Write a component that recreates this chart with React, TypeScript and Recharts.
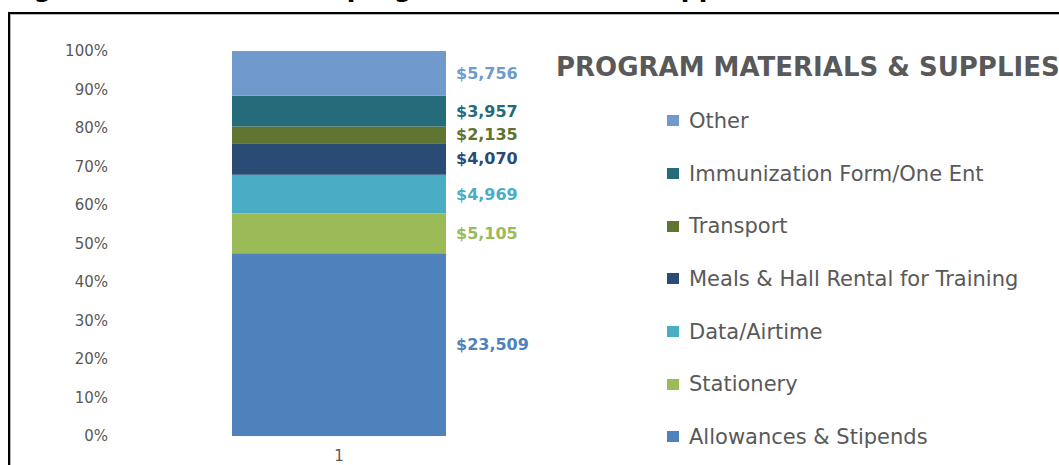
import React from "react";
import { BarChart, Bar, XAxis, YAxis, Legend, LabelList } from "recharts";

const categories = ["1"];
const seriesNames = [
  "Allowances & Stipends",
  "Stationery",
  "Data/Airtime",
  "Meals & Hall Rental for Training",
  "Transport",
  "Immunization Form/One Ent",
  "Other",
];
const seriesKeys = ["allow", "stat", "data", "meals", "transport", "immun", "other"];
const allowancesValues = [23509];
const stationeryValues = [5105];
const dataAirtimeValues = [4969];
const mealsValues = [4070];
const transportValues = [2135];
const immunizationValues = [3957];
const otherValues = [5756];
const seriesValues = [
  allowancesValues,
  stationeryValues,
  dataAirtimeValues,
  mealsValues,
  transportValues,
  immunizationValues,
  otherValues,
];
const seriesColors = ["#4F81BD", "#9BBB59", "#4BACC6", "#2A4B74", "#617532", "#256B79", "#7099CC"];
const labelColors = ["#4F81BD", "#9BBB59", "#4BACC6", "#2A4B74", "#5F7330", "#256B79", "#7099CC"];
const yTicks = [0, 0.1, 0.2, 0.3, 0.4, 0.5, 0.6, 0.7, 0.8, 0.9, 1];
const chartTitle = "PROGRAM MATERIALS & SUPPLIES";
const captionText = "Figure 5: Breakdown of program materials & supplies";

const data = categories.map((c, i) => {
  const row: Record<string, string | number> = { name: c };
  seriesKeys.forEach((k, j) => {
    row[k] = seriesValues[j][i];
  });
  return row;
});

const fmt = (v: number) => "$" + v.toLocaleString("en-US");
const FONT = "'DejaVu Sans', sans-serif";

const makeLabel = (j: number) => (p: any) => {
  const v = seriesValues[j][p.index ?? 0];
  return (
    <text
      x={Number(p.x) + Number(p.width) + 10}
      y={Number(p.y) + Number(p.height) / 2}
      dominantBaseline="central"
      fill={labelColors[j]}
      fontFamily={FONT}
      fontWeight="bold"
      fontSize={16}
    >
      {fmt(v)}
    </text>
  );
};

const LegendContent = (props: any) => {
  const items = [...(props.payload || [])].sort(
    (a: any, b: any) => seriesNames.indexOf(b.value) - seriesNames.indexOf(a.value)
  );
  return (
    <div style={{ fontFamily: FONT }}>
      {items.map((it: any) => (
        <div
          key={it.value}
          style={{ height: 52.67, display: "flex", alignItems: "center", whiteSpace: "nowrap" }}
        >
          <div style={{ width: 12, height: 11, background: it.color, marginRight: 10 }} />
          <span style={{ fontSize: 21, color: "#595959" }}>{it.value}</span>
        </div>
      ))}
    </div>
  );
};

export default function App() {
  return (
    <div
      style={{
        position: "fixed",
        left: 0,
        top: 0,
        width: 1059,
        height: 465,
        overflow: "hidden",
        background: "#fff",
      }}
    >
      <div
        style={{
          position: "absolute",
          left: 8,
          top: -24,
          fontFamily: FONT,
          fontWeight: "bold",
          fontSize: 25,
          lineHeight: "25px",
          color: "#000",
          whiteSpace: "nowrap",
        }}
      >
        {captionText}
      </div>
      <div
        style={{
          position: "absolute",
          left: 8,
          top: 12,
          width: 1200,
          height: 600,
          borderTop: "2px solid #000",
          borderLeft: "2px solid #000",
          boxShadow: "inset 1px 1px 0 #b5b5b5",
        }}
      />
      <div style={{ position: "absolute", left: 0, top: 0 }}>
        <BarChart
          width={1059}
          height={465}
          data={data}
          stackOffset="expand"
          margin={{ top: 51, right: 92, bottom: 0, left: 0 }}
        >
          <XAxis
            dataKey="name"
            height={29}
            axisLine={false}
            tickLine={false}
            tickSize={0}
            tickMargin={14}
            tick={{ fill: "#595959", fontSize: 15, fontFamily: FONT }}
          />
          <YAxis
            width={110}
            domain={[0, 1]}
            ticks={yTicks}
            axisLine={false}
            tickLine={false}
            tickSize={0}
            tickMargin={2}
            tickFormatter={(v: number) => `${Math.round(v * 100)}%`}
            tick={{ fill: "#595959", fontSize: 15, fontFamily: FONT }}
          />
          <Legend
            layout="vertical"
            align="right"
            verticalAlign="top"
            content={<LegendContent />}
            wrapperStyle={{ left: 667, top: 94.67, width: 399, height: 370 }}
          />
          {seriesKeys.map((k, j) => (
            <Bar
              key={k}
              dataKey={k}
              name={seriesNames[j]}
              stackId="a"
              fill={seriesColors[j]}
              barSize={214}
              isAnimationActive={false}
            >
              <LabelList dataKey={k} content={makeLabel(j)} />
            </Bar>
          ))}
        </BarChart>
      </div>
      <div
        style={{
          position: "absolute",
          left: 556,
          top: 52,
          fontFamily: FONT,
          fontWeight: "bold",
          fontSize: 26,
          lineHeight: "30px",
          color: "#595959",
          whiteSpace: "nowrap",
        }}
      >
        {chartTitle}
      </div>
    </div>
  );
}
